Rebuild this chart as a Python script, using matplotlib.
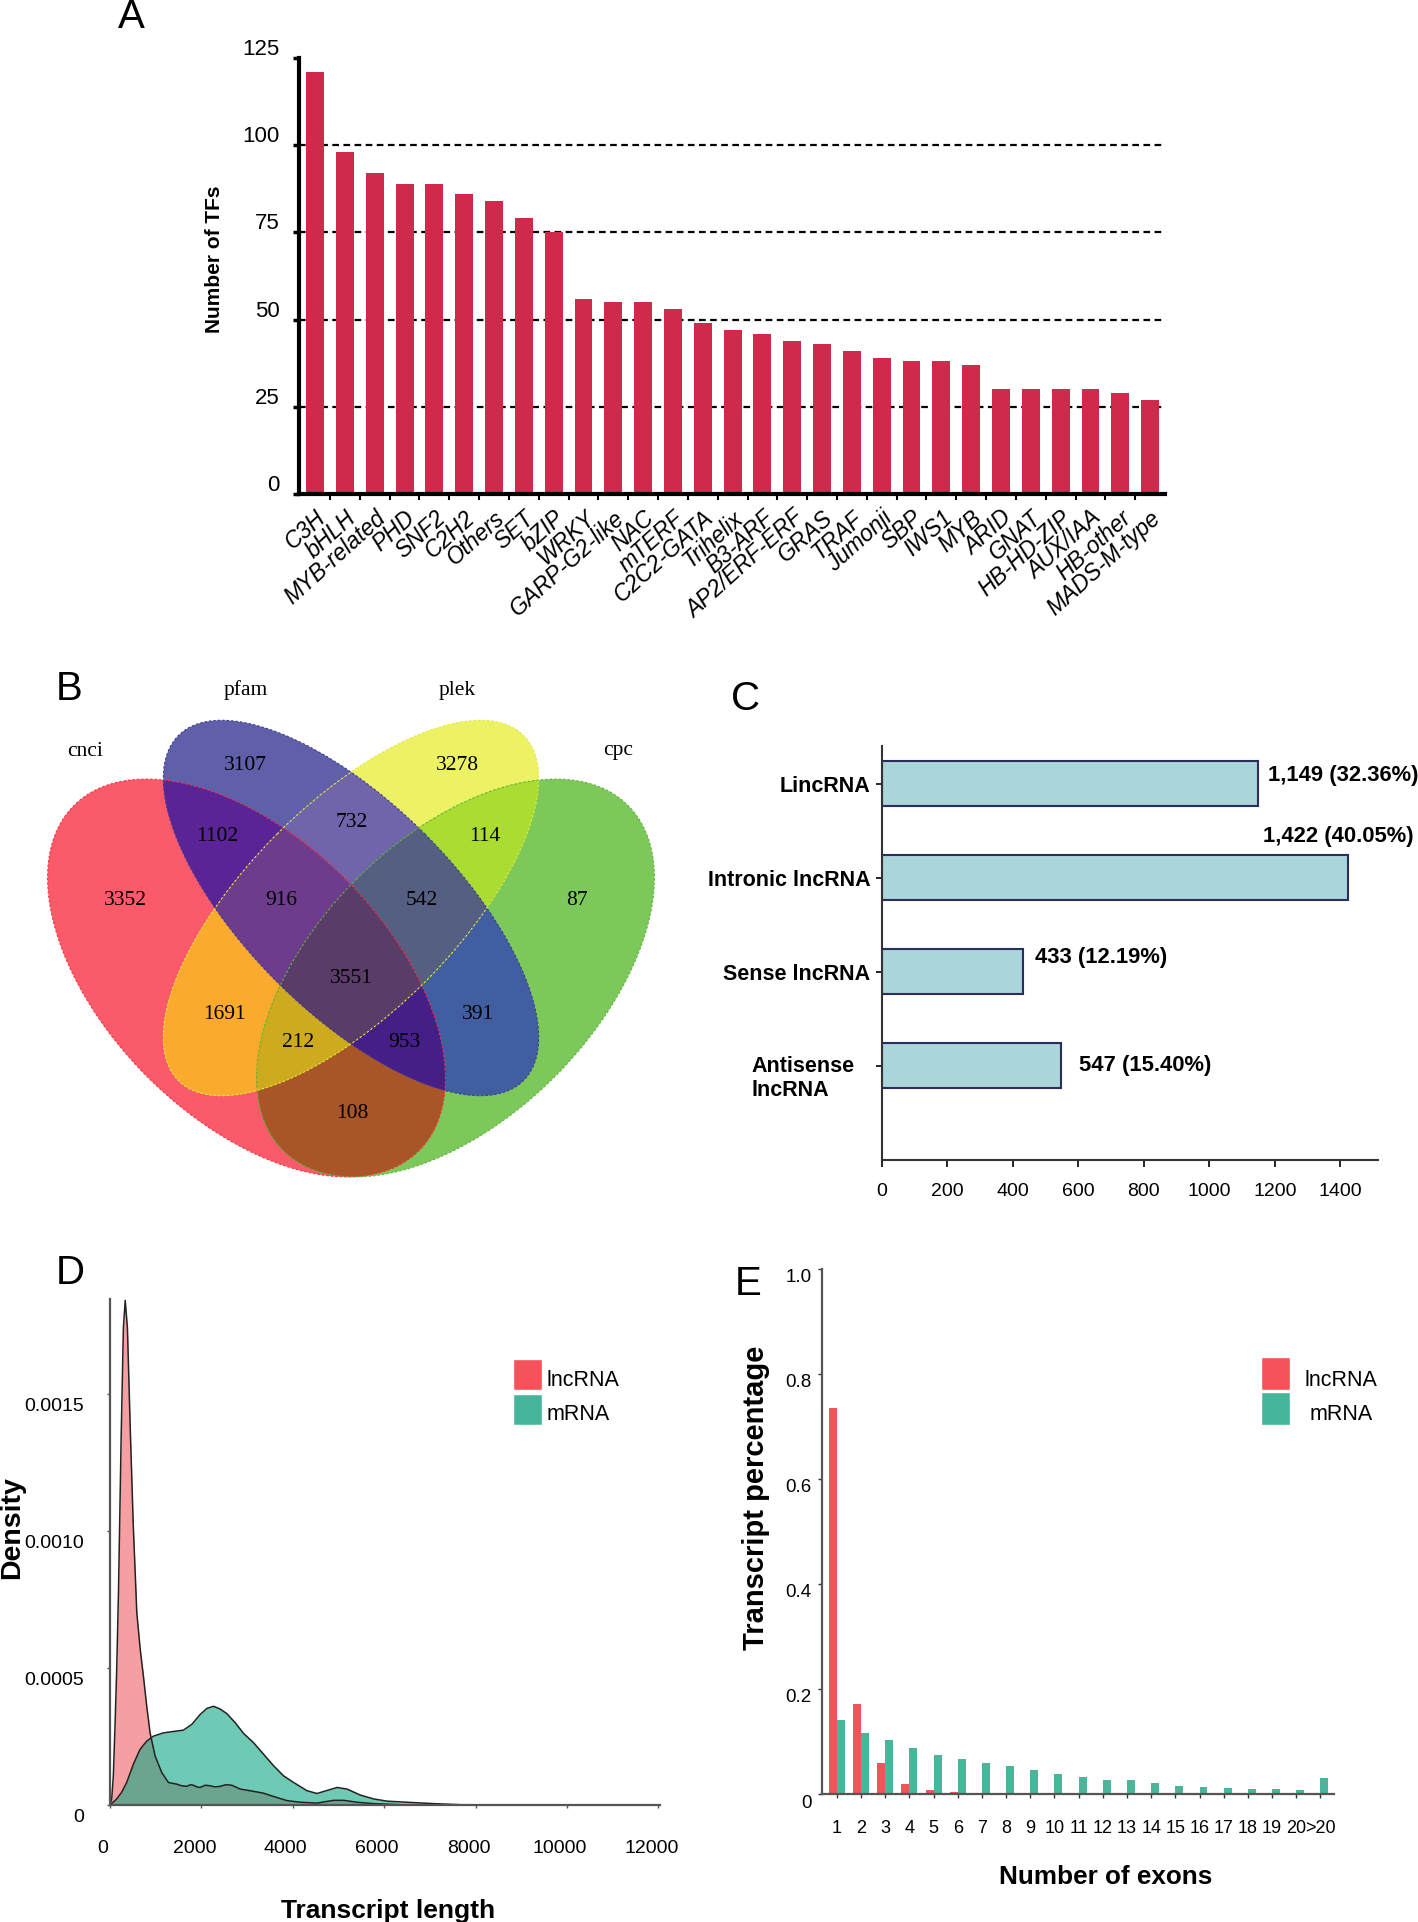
import numpy as np
import matplotlib
matplotlib.use('Agg')
import matplotlib.pyplot as plt
from matplotlib.patches import Polygon, Ellipse, Rectangle
from matplotlib.transforms import ScaledTranslation

plt.rcParams['font.family'] = ['Liberation Sans', 'DejaVu Sans']

# ---------------- data ----------------
# A: TF families
tf_families = ['C3H', 'bHLH', 'MYB-related', 'PHD', 'SNF2', 'C2H2', 'Others', 'SET', 'bZIP',
               'WRKY', 'GARP-G2-like', 'NAC', 'mTERF', 'C2C2-GATA', 'Trihelix', 'B3-ARF',
               'AP2/ERF-ERF', 'GRAS', 'TRAF', 'Jumonji', 'SBP', 'IWS1', 'MYB', 'ARID', 'GNAT',
               'HB-HD-ZIP', 'AUX/IAA', 'HB-other', 'MADS-M-type']
tf_counts = [121, 98, 92, 89, 89, 86, 84, 79, 75, 56, 55, 55, 53, 49, 47, 46, 44, 43, 41, 39,
             38, 38, 37, 30, 30, 30, 30, 29, 27]

# B: venn (membership cnci, pfam, plek, cpc)
venn_sets = ['cnci', 'pfam', 'plek', 'cpc']
venn_regions = ['1000', '0100', '0010', '0001', '1100', '1010', '1001', '0110', '0101', '0011',
                '1110', '1101', '1011', '0111', '1111']
venn_counts = [3352, 3107, 3278, 87, 1102, 1691, 108, 732, 391, 114, 916, 953, 212, 542, 3551]

# C: lncRNA classes
lnc_classes = ['LincRNA', 'Intronic lncRNA', 'Sense lncRNA', 'Antisense\nlncRNA']
lnc_class_counts = [1149, 1422, 433, 547]
lnc_class_pct = [32.36, 40.05, 12.19, 15.40]

# D: length density
len_lnc = [0, 37, 73, 110, 146, 186, 244, 293, 333, 381, 440, 509, 587, 660, 731, 804, 877,
           986, 1133, 1279, 1461, 1570, 1681, 1760, 1827, 1900, 1973, 2080, 2192, 2300, 2411,
           2540, 2667, 2850, 3069, 3361, 3580, 3873, 4165, 4530, 4896, 5115, 5407, 5773, 6357,
           7000, 12000]
dens_lnc = [0, 0.22, 1.06, 2.9, 4.9, 7.8, 13.4, 17.4, 18.4, 17.4, 13.9, 10.2, 7.0, 5.7, 4.7,
            3.6, 2.63, 1.79, 1.18, 0.82, 0.76, 0.70, 0.68, 0.74, 0.72, 0.66, 0.64, 0.72, 0.70,
            0.66, 0.68, 0.74, 0.72, 0.58, 0.52, 0.43, 0.31, 0.16, 0.10, 0.07, 0.17, 0.17, 0.10,
            0.05, 0.01, 0, 0]
len_mrna = [0, 146, 250, 365, 512, 658, 804, 950, 1169, 1388, 1607, 1790, 1973, 2119, 2265,
            2411, 2558, 2740, 2923, 3142, 3361, 3580, 3800, 4019, 4311, 4530, 4750, 4969, 5188,
            5480, 5773, 6065, 6503, 7088, 7672, 8500, 12000]
dens_mrna = [0, 0.22, 0.45, 0.82, 1.49, 2.03, 2.33, 2.51, 2.63, 2.68, 2.73, 2.94, 3.30, 3.52,
             3.60, 3.50, 3.33, 3.00, 2.61, 2.27, 1.85, 1.43, 1.06, 0.82, 0.52, 0.42, 0.53, 0.64,
             0.58, 0.36, 0.22, 0.14, 0.10, 0.05, 0.01, 0, 0]

# E: exon number
exon_labels = [str(i) for i in range(1, 21)] + ['>20']
lnc_exon = [0.735, 0.171, 0.059, 0.019, 0.008, 0.004, 0, 0, 0, 0, 0, 0, 0, 0, 0, 0, 0, 0, 0, 0, 0]
mrna_exon = [0.140, 0.116, 0.102, 0.088, 0.075, 0.066, 0.059, 0.053, 0.046, 0.039, 0.032, 0.027,
             0.026, 0.020, 0.016, 0.013, 0.011, 0.010, 0.009, 0.007, 0.031]

# ---------------- layout helpers ----------------
W, H = 1418, 1922
fig = plt.figure(figsize=(W / 100, H / 100), dpi=100)


def axes_px(left, top, right, bottom):
    return fig.add_axes([left / W, 1 - bottom / H, (right - left) / W, (bottom - top) / H])


def text_px(x, y, s, **kw):
    return fig.text(x / W, 1 - y / H, s, **kw)


def shift(labels, dx, dy):
    off = ScaledTranslation(dx / 100, dy / 100, fig.dpi_scale_trans)
    for t in labels:
        t.set_transform(t.get_transform() + off)


# panel letters
for lab, (px, py) in zip('ABCDE', [(131, 17), (69, 689), (746, 699), (70, 1273), (748, 1284)]):
    text_px(px, py, lab, fontsize=29, ha='center', va='center')

# ---------------- A ----------------
axA = axes_px(299, 58, 1165, 494)
xa = np.arange(len(tf_families))
axA.bar(xa, tf_counts, width=0.6, color='#CF2A4C', zorder=2)
for v in [25, 50, 75, 100]:
    axA.axhline(v, color='black', lw=1.6, ls=(0, (3, 2)), zorder=1)
axA.set_xlim(-0.54, len(tf_families) - 0.5)
axA.set_ylim(0, 125)
for s in ['top', 'right']:
    axA.spines[s].set_visible(False)
for s in ['left', 'bottom']:
    axA.spines[s].set_linewidth(3)
axA.set_yticks([0, 25, 50, 75, 100, 125])
axA.tick_params(axis='y', length=4, width=2.5, pad=10, labelsize=16)
axA.set_xticks(xa)
axA.set_xticklabels(tf_families, rotation=42, ha='right', va='top', rotation_mode='anchor',
                    fontstyle='italic', fontsize=16.5)
axA.tick_params(axis='x', which='major', length=0, pad=9)
axA.set_xticks(xa[:-1] + 0.5, minor=True)
axA.tick_params(axis='x', which='minor', length=4, width=1.5)
shift(axA.get_yticklabels(), 0, 11)
text_px(215, 259, 'Number of TFs', rotation=90, ha='center', va='center', fontsize=15,
        fontweight='bold')

# ---------------- B (venn) ----------------
axB = axes_px(0, 640, 710, 1200)
axB.set_xlim(0, 710)
axB.set_ylim(1200, 640)
axB.axis('off')

cx0 = 351
ell_geo = [(cx0 - 104.5, 978, 244, 140, 45), (cx0, 908, 244, 104.6, 45),
           (cx0, 908, 244, 104.6, -45), (cx0 + 104.5, 978, 244, 140, -45)]
edge_cols = ['#FF2D3C', '#3B3B92', '#E3EC3C', '#5DB43A']
region_cols = {'1000': '#FA5A69', '0100': '#5F5FAA', '0010': '#ECF264', '0001': '#7DC85A',
               '1100': '#5A2396', '1010': '#FAAA2D', '1001': '#AA5528', '0110': '#7064AA',
               '0101': '#415FA0', '0011': '#AADC32', '1110': '#6E3C8C', '1101': '#461E87',
               '1011': '#CDAA1E', '0111': '#555F82', '1111': '#5A3C69'}


def ellipse_poly(cx, cy, a, b, ang, n=240):
    t = np.linspace(0, 2 * np.pi, n, endpoint=False)
    th = np.deg2rad(ang)
    x = cx + a * np.cos(t) * np.cos(th) - b * np.sin(t) * np.sin(th)
    y = cy + a * np.cos(t) * np.sin(th) + b * np.sin(t) * np.cos(th)
    return list(zip(x, y))


def clip(subject, clipper):
    out = subject
    n = len(clipper)
    for i in range(n):
        ax_, ay_ = clipper[i]
        bx_, by_ = clipper[(i + 1) % n]
        inp = out
        out = []
        if not inp:
            break

        def inside(p):
            return (bx_ - ax_) * (p[1] - ay_) - (by_ - ay_) * (p[0] - ax_) >= 0

        def inter(p, q):
            x1, y1 = p
            x2, y2 = q
            dx, dy = x2 - x1, y2 - y1
            ex, ey = bx_ - ax_, by_ - ay_
            den = dx * ey - dy * ex
            t = ((ax_ - x1) * ey - (ay_ - y1) * ex) / den
            return (x1 + t * dx, y1 + t * dy)

        s = inp[-1]
        for e in inp:
            if inside(e):
                if not inside(s):
                    out.append(inter(s, e))
                out.append(e)
            elif inside(s):
                out.append(inter(s, e))
            s = e
    return out


polys = [ellipse_poly(*g) for g in ell_geo]
order = sorted(range(len(venn_regions)), key=lambda k: venn_regions[k].count('1'))
for k in order:
    code = venn_regions[k]
    members = [i for i, c in enumerate(code) if c == '1']
    poly = polys[members[0]]
    for m in members[1:]:
        poly = clip(poly, polys[m])
    if len(poly) > 2:
        axB.add_patch(Polygon(poly, closed=True, facecolor=region_cols[code], edgecolor='none'))
for g, ec in zip(ell_geo, edge_cols):
    axB.add_patch(Ellipse((g[0], g[1]), 2 * g[2], 2 * g[3], angle=g[4], fill=False,
                          edgecolor=ec, lw=0.8, ls=(0, (2, 2))))

num_pos = {'1000': (125, 901), '0100': (245.5, 766), '0010': (457, 766), '0001': (577, 901),
           '1100': (217, 837), '1010': (224, 1015), '1001': (352, 1114), '0110': (352, 823),
           '0101': (478, 1015), '0011': (485, 837), '1110': (281, 901), '1101': (404, 1043),
           '1011': (298, 1043), '0111': (422, 901), '1111': (351, 979)}
for code, cnt in zip(venn_regions, venn_counts):
    x, y = num_pos[code]
    axB.text(x, y, str(cnt), ha='center', va='center', fontsize=15.5,
             family='Liberation Serif')
for name, (x, y) in zip(venn_sets, [(85, 751), (245.5, 690), (457, 690), (618, 751)]):
    axB.text(x, y, name, ha='center', va='center', fontsize=15.5, family='Liberation Serif')

# ---------------- C ----------------
axC = axes_px(881.5, 746, 1378, 1159.5)
yc = np.arange(len(lnc_classes))
axC.barh(yc, lnc_class_counts, height=0.48, color='#AAD5D9', edgecolor='#2B2D5E', lw=1.5)
axC.set_ylim(4.0, -0.4)
axC.set_xlim(0, 1515)
for s in ['top', 'right']:
    axC.spines[s].set_visible(False)
for s in ['left', 'bottom']:
    axC.spines[s].set_linewidth(1.5)
    axC.spines[s].set_color('#333333')
axC.set_xticks(range(0, 1401, 200))
axC.tick_params(axis='x', length=5, width=1.2, pad=12, labelsize=14)
axC.set_yticks(yc)
axC.set_yticklabels(lnc_classes[:3] + [''], fontweight='bold', fontsize=15.5)
axC.tick_params(axis='y', length=4, width=1.2, pad=4)
text_px(751.5, 1078.5, lnc_classes[3], ha='left', va='center', fontweight='bold',
        fontsize=15.5, linespacing=1.25)
lab_off = [(30, -0.09), (-257, -0.44), (34, -0.15), (56, 0.0)]
for i, (v, p) in enumerate(zip(lnc_class_counts, lnc_class_pct)):
    dx, dy = lab_off[i]
    axC.text(v + dx, i + dy, f'{v:,} ({p:.2f}%)', ha='left', va='center',
             fontweight='bold', fontsize=15.8)

# ---------------- D ----------------
axD = axes_px(110, 1299, 659.8, 1805)
dl = np.array(dens_lnc) * 1e-4
dm = np.array(dens_mrna) * 1e-4
axD.fill_between(len_lnc, dl, color='#EF5058', alpha=0.55, lw=0)
axD.fill_between(len_mrna, dm, color='#0EA882', alpha=0.6, lw=0)
axD.plot(len_lnc, dl, color='#222222', lw=1.1)
axD.plot(len_mrna, dm, color='#222222', lw=1.1)
axD.set_xlim(0, 12030)
axD.set_ylim(0, 0.001845)
for s in ['top', 'right']:
    axD.spines[s].set_visible(False)
for s in ['left', 'bottom']:
    axD.spines[s].set_linewidth(1.6)
    axD.spines[s].set_color('#555555')
axD.set_xticks(range(0, 12001, 2000))
axD.set_yticks([0, 0.0005, 0.0010, 0.0015])
axD.set_yticklabels(['0', '0.0005', '0.0010', '0.0015'])
axD.tick_params(axis='x', length=2.5, width=1, pad=23, labelsize=14, color='#555555')
axD.tick_params(axis='y', length=2.5, width=1, pad=16, labelsize=14, color='#555555')
shift(axD.get_yticklabels(), 0, -11)
shift(axD.get_xticklabels(), -7, 0)
text_px(12, 1528, 'Density', rotation=90, ha='center', va='center', fontsize=20.5,
        fontweight='bold')
text_px(388, 1911, 'Transcript length', ha='center', va='center', fontsize=19,
        fontweight='bold')
for (name, col), y0 in zip([('lncRNA', '#F5525A'), ('mRNA', '#47B59A')], [1359, 1394]):
    fig.add_artist(Rectangle((513 / W, 1 - (y0 + 31) / H), 29 / W, 31 / H,
                             transform=fig.transFigure, facecolor=col, edgecolor='white', lw=1))
    text_px(547, y0 + 21, name, ha='left', va='center', fontsize=15.5)

# ---------------- E ----------------
axE = axes_px(822.4, 1268.5, 1334.4, 1794)
xe = np.arange(len(exon_labels))
w = 0.33
axE.bar(xe - w / 2, lnc_exon, width=w, color='#F5535A')
axE.bar(xe + w / 2, mrna_exon, width=w, color='#4BB59B')
axE.set_xlim(-0.6, len(exon_labels) - 0.42)
axE.set_ylim(0, 1.0)
for s in ['top', 'right']:
    axE.spines[s].set_visible(False)
for s in ['left', 'bottom']:
    axE.spines[s].set_linewidth(1.6)
    axE.spines[s].set_color('#555555')
axE.set_xticks(xe)
axE.set_xticklabels(exon_labels)
axE.set_yticks([0, 0.2, 0.4, 0.6, 0.8, 1.0])
axE.set_yticklabels(['0', '0.2', '0.4', '0.6', '0.8', '1.0'])
axE.tick_params(axis='x', length=3, width=1, pad=16, labelsize=13, color='#333333')
axE.tick_params(axis='y', length=3, width=1, pad=5, labelsize=13.5, color='#333333')
shift(axE.get_yticklabels(), 0, -7)
text_px(756, 1498, 'Transcript percentage', rotation=90, ha='center', va='center',
        fontsize=21, fontweight='bold')
text_px(1106, 1877, 'Number of exons', ha='center', va='center', fontsize=18.8,
        fontweight='bold')
for (name, col), y0 in zip([('lncRNA', '#F5525A'), ('mRNA', '#47B59A')], [1357, 1392]):
    fig.add_artist(Rectangle((1261 / W, 1 - (y0 + 33) / H), 29 / W, 33 / H,
                             transform=fig.transFigure, facecolor=col, edgecolor='white', lw=1))
    text_px(1341, y0 + 23, name, ha='center', va='center', fontsize=15.5)

fig.savefig('out.png', dpi=100, facecolor='white')
